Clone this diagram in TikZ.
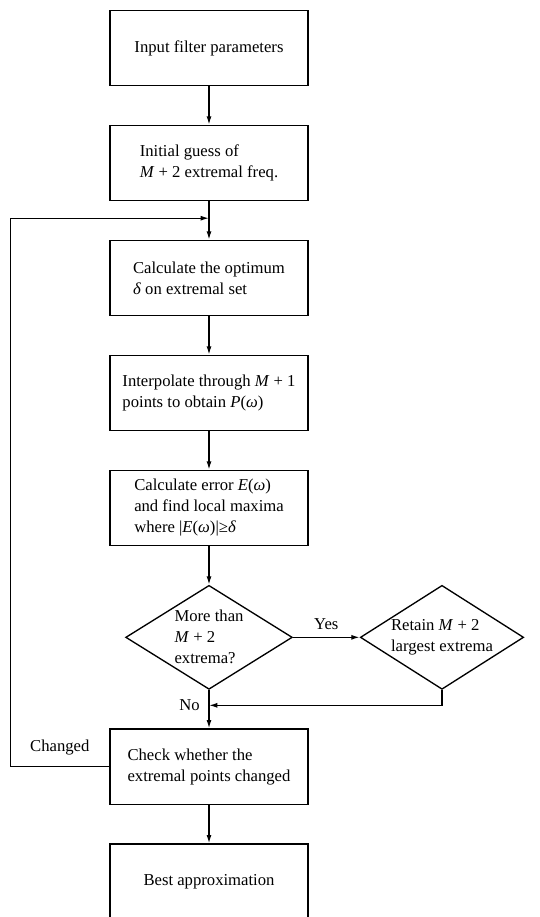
\documentclass[tikz,border=0pt]{standalone}
\usepackage{fontspec}
\setmainfont{Liberation Serif}
\usetikzlibrary{arrows.meta, positioning, shapes.geometric, calc}

\begin{document}
\begin{tikzpicture}[
    x=0.6pt, y=-0.6pt,
    node distance=23pt,
    block/.style={
        draw,
        line width=0.8pt,
        minimum width=118.8pt,
        minimum height=45.2pt,
        align=left,
        font=\fontsize{10}{12.6}\selectfont
    },
    decision/.style={
        draw,
        diamond,
        line width=0.8pt,
        aspect=1.6,
        inner sep=0pt,
        minimum width=100pt,
        minimum height=62.4pt,
        align=left,
        font=\fontsize{10}{12.6}\selectfont
    },
    note/.style={font=\fontsize{10}{12.6}\selectfont},
    arrow/.style={-{Latex[length=5pt, width=3pt]}, line width=0.8pt}
]
\path[use as bounding box, clip] (0,0) rectangle (539,917);

\node[block] (input) at (209,48) {Input filter parameters};
\node[block, below=of input] (guess) {Initial guess of \\ \textit{M} + 2 extremal freq.};
\node[block, below=of guess] (delta) {Calculate the optimum \\ \textit{δ} on extremal set};
\node[block, below=of delta] (interp) {Interpolate through \textit{M} + 1 \\ points to obtain \textit{P}(\textit{ω})};
\node[block, below=of interp] (error) {Calculate error \textit{E}(\textit{ω}) \\ and find local maxima \\ where |\textit{E}(\textit{ω})|≥\textit{δ}};
\node[decision, below=of error] (test) {More than \\ \textit{M} + 2 \\ extrema?};
\node[decision, minimum width=98pt, right=40pt of test] (retain) {Retain \textit{M} + 2 \\ largest extrema};
\node[block, below=of test] (check) {Check whether the \\ extremal points changed};
\node[block, below=of check] (best) {Best approximation};

\coordinate (join) at ($(guess.south)!0.44!(delta.north)$);
\coordinate (merge) at ($(test.south)!0.4!(check.north)$);
\path (check.west) ++(-99,0) coordinate (back);
\node[note, left=2pt of merge] (no) {No};

\draw[arrow] (input) -- (guess);
\draw[arrow] (guess) -- (delta);
\draw[arrow] (delta) -- (interp);
\draw[arrow] (interp) -- (error);
\draw[arrow] (error) -- (test);
\draw[arrow] (test) -- node[note, above=1pt] {Yes} (retain);
\draw[arrow] (test) -- (check);
\draw[arrow] (retain.south) |- (merge);
\draw[arrow] (check) -- (best);
\draw[arrow] (check.west) -- node[note, above=3pt] {Changed} (back) |- (join);
\end{tikzpicture}
\end{document}
